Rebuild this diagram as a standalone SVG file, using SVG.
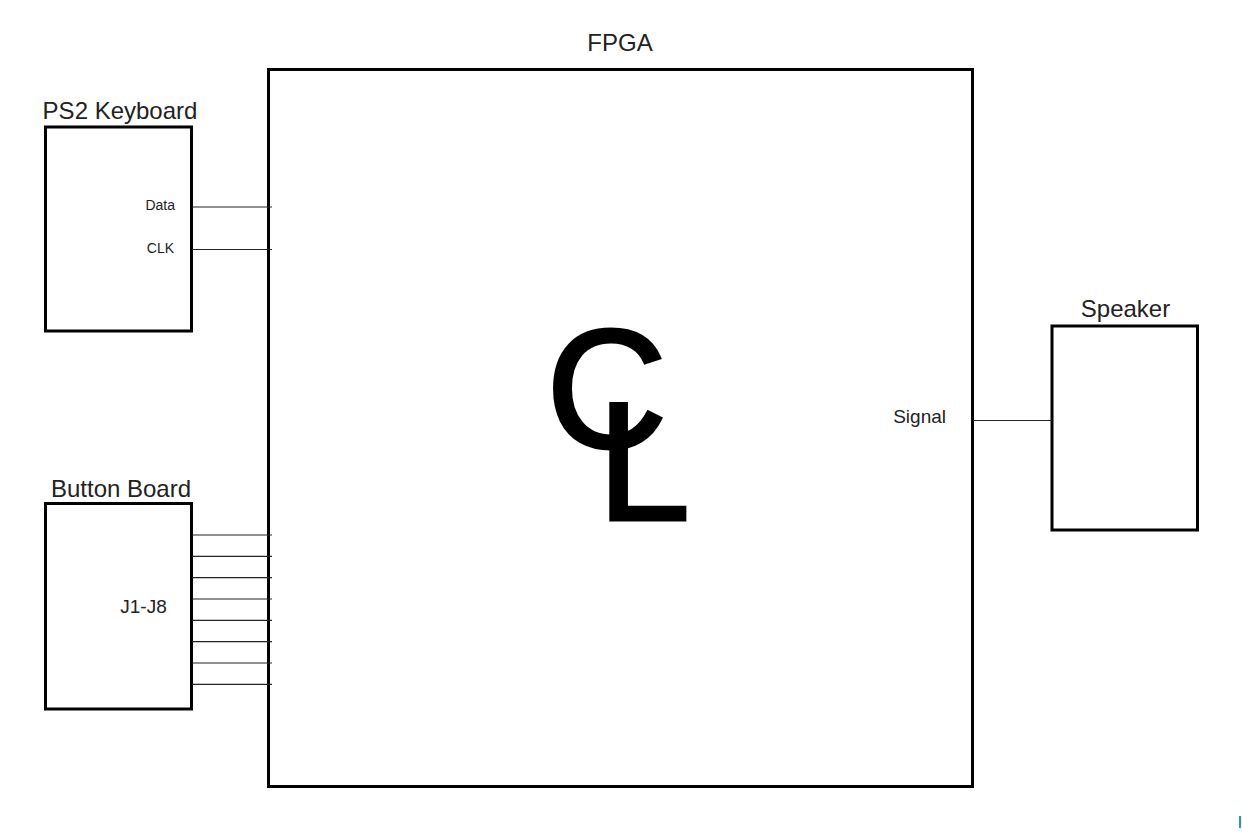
<svg xmlns="http://www.w3.org/2000/svg" width="1242" height="840" viewBox="0 0 1242 840">
<style>
.box{fill:#fff;stroke:#000;stroke-width:3}
.t{font-family:"Liberation Sans",Arial,sans-serif;fill:#222}
.wire{stroke:#222;stroke-width:1.2;fill:none}
.logo{font-family:"Liberation Sans",Arial,sans-serif;font-size:168px;fill:#000;stroke:#000;stroke-width:3}
</style>
<rect width="1242" height="840" fill="#fff"/>
<g id="fpga">
<rect class="box" x="268.5" y="69.5" width="704" height="717"/>
<text class="t" x="620" y="51" font-size="24" text-anchor="middle">FPGA</text>
<text class="logo"><tspan x="546" y="447">C</tspan><tspan x="597" y="519.5">L</tspan></text>
<text class="t" x="946" y="423" font-size="19" text-anchor="end">Signal</text>
</g>
<g id="ps2">
<rect class="box" x="45.5" y="127" width="146" height="204"/>
<text class="t" x="120" y="119" font-size="24" text-anchor="middle">PS2 Keyboard</text>
<text class="t" x="175" y="210" font-size="14" text-anchor="end">Data</text>
<text class="t" x="174" y="253" font-size="14" text-anchor="end">CLK</text>
</g>
<g id="buttons">
<rect class="box" x="45.5" y="503.5" width="146" height="205.5"/>
<text class="t" x="121" y="497" font-size="24" text-anchor="middle">Button Board</text>
<text class="t" x="143.5" y="613" font-size="19" text-anchor="middle">J1-J8</text>
</g>
<g id="speaker">
<rect class="box" x="1052" y="326" width="145.5" height="204"/>
<text class="t" x="1125.5" y="317" font-size="24" text-anchor="middle">Speaker</text>
</g>
<g id="connectors">
<line class="wire" x1="192" y1="207" x2="272" y2="207"/>
<line class="wire" x1="192" y1="249.5" x2="272" y2="249.5"/>
<line class="wire" x1="192" y1="535" x2="272" y2="535"/>
<line class="wire" x1="192" y1="556.3" x2="272" y2="556.3"/>
<line class="wire" x1="192" y1="577.7" x2="272" y2="577.7"/>
<line class="wire" x1="192" y1="599" x2="272" y2="599"/>
<line class="wire" x1="192" y1="620.3" x2="272" y2="620.3"/>
<line class="wire" x1="192" y1="641.7" x2="272" y2="641.7"/>
<line class="wire" x1="192" y1="663" x2="272" y2="663"/>
<line class="wire" x1="192" y1="684.3" x2="272" y2="684.3"/>
<line class="wire" x1="973" y1="420.5" x2="1052" y2="420.5"/>
</g>
<rect x="1239" y="816" width="2" height="12" fill="#1a9fc0"/>
</svg>
